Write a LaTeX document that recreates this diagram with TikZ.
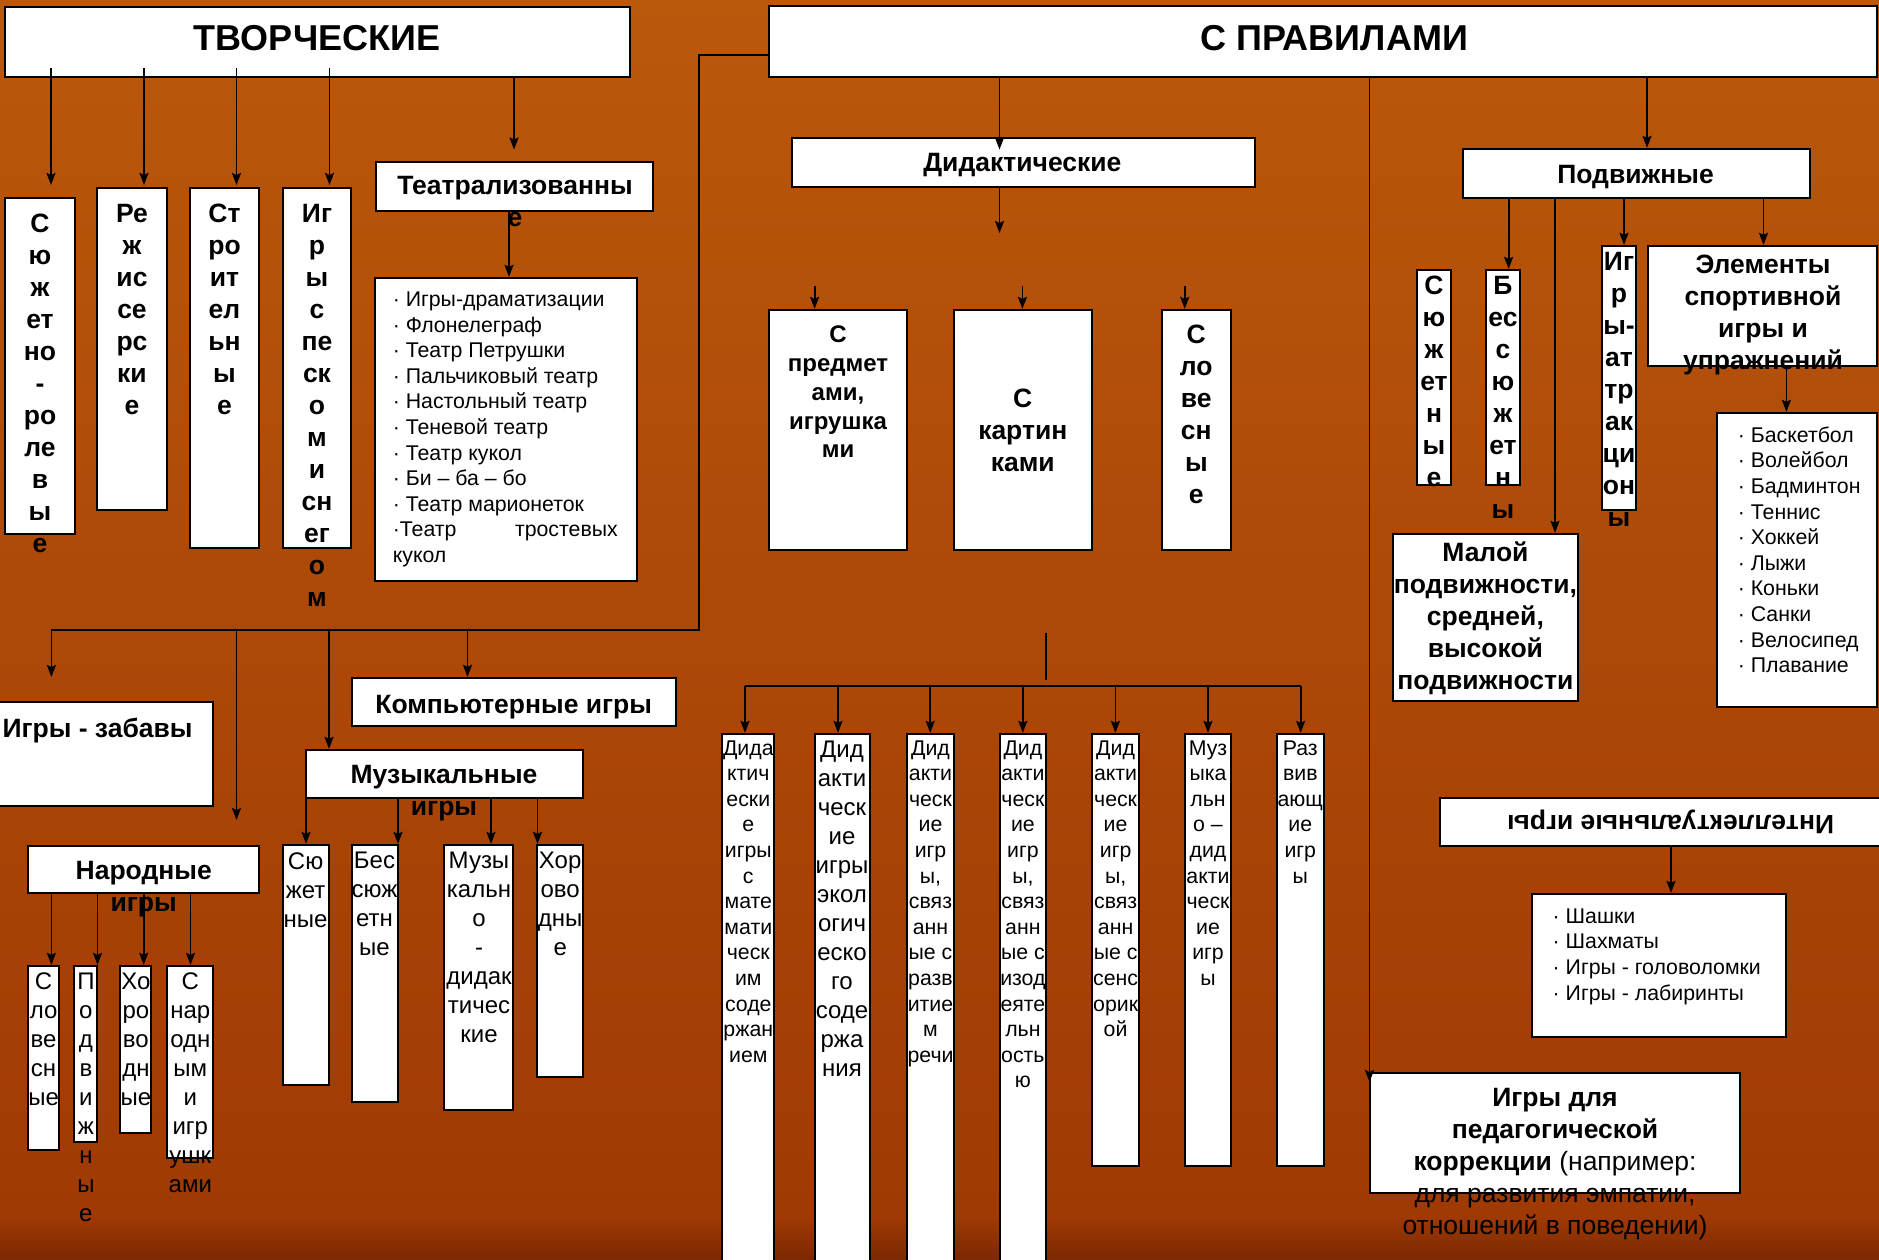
\documentclass[tikz,border=0pt]{standalone}
\usepackage{fontspec}
\setmainfont{Liberation Sans}
\usetikzlibrary{arrows.meta,fit}
\definecolor{bgtop}{RGB}{186,88,12}
\definecolor{bgbot}{RGB}{160,58,4}
\definecolor{bgstrip}{RGB}{124,40,2}

\begin{document}
\begin{tikzpicture}[x=1pt,y=-1pt,>={Stealth[length=12pt,width=9pt,inset=2pt]},
	box/.style={draw,line width=2.3pt,fill=white,inner sep=0pt},
	link/.style={line width=1.8pt},
	big/.style={font=\fontsize{36}{43}\selectfont\bfseries,inner sep=0pt,anchor=base},
	hd/.style={font=\fontsize{26.5}{32}\selectfont\bfseries,align=center,inner sep=0pt,anchor=north},
	tx/.style={font=\fontsize{26.5}{32}\selectfont,align=center,inner sep=0pt,anchor=north},
	md/.style={font=\fontsize{24}{29}\selectfont,align=center,inner sep=0pt,anchor=north},
	sm/.style={font=\fontsize{21.3}{25.6}\selectfont,align=center,inner sep=0pt,anchor=north},
	lst/.style={font=\fontsize{21.3}{25.6}\selectfont,align=left,inner sep=0pt,anchor=north west}]

\shade[top color=bgtop,bottom color=bgbot] (0,0) rectangle (1879,1215);
\shade[top color=bgbot,bottom color=bgstrip] (0,1215) rectangle (1879,1260);
\useasboundingbox (0,0) rectangle (1879,1260);

%%%%%%%%%%%%%%%%%%%%%%%%%%%%%%%%%%%%%%

\node[box,fit={(5,7) (630,77)}] (tvor) {};
\node[box,fit={(769,6) (1877,77)}] (prav) {};

\node[box,fit={(5,198) (75,534)}] (syu) {};
\node[box,fit={(97,188) (167,510)}] (rezh) {};
\node[box,fit={(190,188) (259,548)}] (stroi) {};
\node[box,fit={(283,188) (351,548)}] (pesok) {};
\node[box,fit={(376,162) (653,211)}] (teatr) {};
\node[box,fit={(375,278) (637,581)}] (teatrl) {};

%%%%%%%%%%%%%%%%%%%%%%%%%%%%%%%%%%%%%%

\node[box,fit={(792,138) (1255,187)}] (didakt) {};
\node[box,fit={(769,310) (907,550)}] (predm) {};
\node[box,fit={(954,310) (1092,550)}] (kart) {};
\node[box,fit={(1162,310) (1231,550)}] (slov) {};

\node[box,fit={(1463,149) (1810,198)}] (podv) {};
\node[box,fit={(1417,270) (1451,485)}] (psyu) {};
\node[box,fit={(1486,270) (1520,485)}] (pbes) {};
\node[box,fit={(1602,246) (1636,510)}] (pattr) {};
\node[box,fit={(1648,246) (1877,366)}] (pelem) {};
\node[box,fit={(1717,413) (1877,707)}] (psport) {};
\node[box,fit={(1393,534) (1578,701)}] (pmalo) {};

\node[box,fit={(1440,798) (1890,846)}] (intel) {};
\node[box,fit={(1532,894) (1786,1037)}] (intell) {};
\node[box,fit={(1370,1073) (1740,1193)}] (korr) {};

%%%%%%%%%%%%%%%%%%%%%%%%%%%%%%%%%%%%%%

\node[box,fit={(-5,702) (213,806)}] (zabav) {};
\node[box,fit={(352,678) (676,726)}] (komp) {};
\node[box,fit={(306,750) (583,798)}] (muz) {};
\node[box,fit={(283,845) (329,1085)}] (msyu) {};
\node[box,fit={(352,845) (398,1102)}] (mbes) {};
\node[box,fit={(444,845) (513,1110)}] (mdid) {};
\node[box,fit={(537,845) (583,1077)}] (mhor) {};
\node[box,fit={(28,846) (259,893)}] (narod) {};
\node[box,fit={(28,966) (59,1150)}] (nslov) {};
\node[box,fit={(74,966) (97,1142)}] (npodv) {};
\node[box,fit={(120,966) (151,1133)}] (nhor) {};
\node[box,fit={(167,966) (213,1158)}] (nigr) {};

\node[box,fit={(722,734) (774,1272)}] (d1) {};
\node[box,fit={(815,734) (870,1272)}] (d2) {};
\node[box,fit={(907,734) (954,1272)}] (d3) {};
\node[box,fit={(1000,734) (1046,1272)}] (d4) {};
\node[box,fit={(1092,734) (1139,1166)}] (d5) {};
\node[box,fit={(1185,734) (1231,1166)}] (d6) {};
\node[box,fit={(1277,734) (1324,1166)}] (d7) {};

%%%%%%%%%%%%%%%%%%%%%%%%%%%%%%%%%%%%%%

\coordinate (tvb) at ([yshift=10pt]tvor.south);
\coordinate (a1) at (51,185);
\coordinate (a2) at (144,185);
\coordinate (a3) at (236.5,185);
\coordinate (a4) at (329.5,185);
\coordinate (a5) at (514,149.5);
\coordinate (a6) at (509,0);
\draw[link,->] (tvb -| a1) -- (a1);
\draw[link,->] (tvb -| a2) -- (a2);
\draw[link,->] (tvb -| a3) -- (a3);
\draw[link,->] (tvb -| a4) -- (a4);
\draw[link,->] (tvor.south -| a5) -- (a5);
\draw[link,->] (teatr.south -| a6) -- (teatrl.north -| a6);

\coordinate (c1) at (699,55);
\coordinate (c2) at (699,630);
\coordinate (c3) at (51.4,630);
\coordinate (b2) at (236.5,630);
\coordinate (b3) at (329,630);
\coordinate (b4) at (467.5,630);
\coordinate (e1) at (51.4,677);
\coordinate (e2) at (236.5,820);
\draw[link] (prav.west |- c1) -- (c1) -- (c2) -- (c3);
\draw[link,->] (c3) -- (e1);
\draw[link,->] (b2) -- (e2);
\draw[link,->] (b3) -- (b3 |- muz.north);
\draw[link,->] (b4) -- (b4 |- komp.north);

\coordinate (mx2) at (398,0);
\coordinate (mx3) at (491,0);
\coordinate (mx4) at (537.5,0);
\draw[link,->] (muz.south -| msyu) -- (msyu.north);
\draw[link,->] (muz.south -| mx2) -- (mbes.north -| mx2);
\draw[link,->] (muz.south -| mx3) -- (mdid.north -| mx3);
\draw[link,->] (muz.south -| mx4) -- (mhor.north -| mx4);

\coordinate (nx1) at (51.4,0);
\coordinate (nx2) at (97.5,0);
\coordinate (nx3) at (143.7,0);
\coordinate (nx4) at (190.5,0);
\draw[link,->] (narod.south -| nx1) -- (nslov.north -| nx1);
\draw[link,->] (narod.south -| nx2) -- (npodv.north -| nx2);
\draw[link,->] (narod.south -| nx3) -- (nhor.north -| nx3);
\draw[link,->] (narod.south -| nx4) -- (nigr.north -| nx4);

%%%%%%%%%%%%%%%%%%%%%%%%%%%%%%%%%%%%%%

\coordinate (px1) at (999.5,149.5);
\coordinate (px2) at (999.5,233);
\draw[link,->] (prav.south -| px1) -- (px1);
\draw[link,->] (didakt.south -| px2) -- (px2);
\coordinate (q1) at (814.6,285.5);
\coordinate (q2) at (1022.4,285.5);
\coordinate (q3) at (1184.7,285.5);
\draw[link,->] (q1) -- (predm.north -| q1);
\draw[link,->] (q2) -- (kart.north -| q2);
\draw[link,->] (q3) -- (slov.north -| q3);

\coordinate (px3) at (1369.5,1082);
\coordinate (px4) at (1647,0);
\draw[link,->] (prav.south -| px3) -- (px3);
\draw[link,->] (prav.south -| px4) -- (podv.north -| px4);
\coordinate (px5) at (1508.6,0);
\coordinate (px6) at (1555,0);
\coordinate (px7) at (1624,0);
\coordinate (px8) at (1763.5,0);
\coordinate (px9) at (1786.4,0);
\coordinate (px10) at (1671,0);
\draw[link,->] (podv.south -| px5) -- (pbes.north -| px5);
\draw[link,->] (podv.south -| px6) -- (pmalo.north -| px6);
\draw[link,->] (podv.south -| px7) -- (pattr.north -| px7);
\draw[link,->] (podv.south -| px8) -- (pelem.north -| px8);
\draw[link,->] (pelem.south -| px9) -- (psport.north -| px9);
\draw[link,->] (intel.south -| px10) -- (intell.north -| px10);

\coordinate (g0) at (1046,633);
\coordinate (g1) at (1046,680);
\coordinate (gl) at (745,686);
\coordinate (gr) at (1300.6,686);
\draw[link] (g0) -- (g1);
\draw[link] (gl) -- (gr);
\foreach \x/\n in {745/d1,838/d2,930.2/d3,1022.8/d4,1115.4/d5,1208/d6,1300.6/d7}{
	\coordinate (gx) at (\x,686);
	\draw[link,->] (gx) -- (gx |- \n.north);
}

%%%%%%%%%%%%%%%%%%%%%%%%%%%%%%%%%%%%%%

\node[big] (tvor-t) at (317,50.5) {ТВОРЧЕСКИЕ};
\node[big] (prav-t) at (1334,50.5) {С ПРАВИЛАМИ};

\node[hd] (syu-t) at (40,213.5) {С\\ю\\ж\\ет\\но\\-\\ро\\ле\\в\\ы\\е};
\node[hd] (rezh-t) at (132,204) {Ре\\ж\\ис\\се\\рс\\ки\\е};
\node[hd] (stroi-t) at (224.5,204) {Ст\\ро\\ит\\ел\\ьн\\ы\\е};
\node[hd] (pesok-t) at (317,204) {Иг\\р\\ы\\с\\пе\\ск\\о\\м\\и\\сн\\ег\\о\\м};
\node[hd] (teatr-t) at (515,176.3) {Театрализованны\\е};
\node[lst] (teatrl-t) at (392.6,291.7) {· Игры-драматизации\\· Флонелеграф\\· Театр Петрушки\\· Пальчиковый театр\\· Настольный театр\\· Теневой театр\\· Театр кукол\\· Би – ба – бо\\· Театр марионеток\\\makebox[225pt][s]{·Театр тростевых}\\кукол};

\node[hd,anchor=base] (didakt-t) at (1022.4,171.5) {Дидактические};
\node[hd,font=\fontsize{24}{28.9}\selectfont\bfseries] (predm-t) at (838,325.4) {С\\предмет\\ами,\\игрушка\\ми};
\node[hd] (kart-t) at (1022.8,389) {С\\картин\\ками};
\node[hd] (slov-t) at (1196.3,324.5) {С\\ло\\ве\\сн\\ы\\е};

\node[hd,anchor=base] (podv-t) at (1635.5,184) {Подвижные};
\node[hd] (psyu-t) at (1434,276) {С\\ю\\ж\\ет\\н\\ы\\е};
\node[hd] (pbes-t) at (1503,276) {Б\\ес\\с\\ю\\ж\\ет\\н\\ы};
\node[hd] (pattr-t) at (1619,252) {Иг\\р\\ы-\\ат\\тр\\ак\\ци\\он\\ы};
\node[hd] (pelem-t) at (1763,254.5) {Элементы\\спортивной\\игры и\\упражнений};
\node[lst] (psport-t) at (1737.6,426.4) {· Баскетбол\\· Волейбол\\· Бадминтон\\· Теннис\\· Хоккей\\· Лыжи\\· Коньки\\· Санки\\· Велосипед\\· Плавание};
\node[hd] (pmalo-t) at (1485.4,541.5) {Малой\\подвижности,\\средней,\\высокой\\подвижности};

\node[hd,anchor=center,rotate=180] (intel-t) at (1670.6,821.4) {Интеллектуальные игры};
\node[lst] (intell-t) at (1552.5,908.4) {· Шашки\\· Шахматы\\· Игры - головоломки\\· Игры - лабиринты};
\node[tx] (korr-t) at (1555,1088.5) {\textbf{Игры для}\\\textbf{педагогической}\\\textbf{коррекции} (например:\\для развития эмпатии,\\отношений в поведении)};

%%%%%%%%%%%%%%%%%%%%%%%%%%%%%%%%%%%%%%

\node[hd,anchor=base west] (zabav-t) at (2.3,737.5) {Игры - забавы};
\node[hd,anchor=base] (komp-t) at (513.7,713.2) {Компьютерные игры};
\node[hd] (muz-t) at (444,765.5) {Музыкальные\\игры};
\node[md] (msyu-t) at (305.6,852.2) {Сю\\жет\\ные};
\node[md] (mbes-t) at (374.5,852.2) {Бес\\сюж\\етн\\ые};
\node[md] (mdid-t) at (479,852.2) {Музы\\кальн\\о\\-\\дидак\\тичес\\кие};
\node[md] (mhor-t) at (560.2,852.2) {Хор\\ово\\дны\\е};
\node[hd] (narod-t) at (143.7,861.5) {Народные\\игры};
\node[md] (nslov-t) at (43.6,972.7) {С\\ло\\ве\\сн\\ые};
\node[md] (npodv-t) at (85.9,972.7) {П\\о\\д\\в\\и\\ж\\н\\ы\\е};
\node[md] (nhor-t) at (135.9,972.7) {Хо\\ро\\во\\дн\\ые};
\node[md] (nigr-t) at (190.3,972.7) {С\\нар\\одн\\ым\\и\\игр\\ушк\\ами};

\node[sm] (d1-t) at (748.3,740.2) {Дида\\ктич\\ески\\е\\игры\\с\\мате\\мати\\ческ\\им\\соде\\ржан\\ием};
\node[md] (d2-t) at (842,741.2) {Дид\\акти\\ческ\\ие\\игры\\экол\\огич\\еско\\го\\соде\\ржа\\ния};
\node[sm] (d3-t) at (930.5,740.2) {Дид\\акти\\ческ\\ие\\игр\\ы,\\связ\\анн\\ые с\\разв\\итие\\м\\речи};
\node[sm] (d4-t) at (1022.9,740.2) {Дид\\акти\\ческ\\ие\\игр\\ы,\\связ\\анн\\ые с\\изод\\еяте\\льн\\ость\\ю};
\node[sm] (d5-t) at (1115.6,740.2) {Дид\\акти\\ческ\\ие\\игр\\ы,\\связ\\анн\\ые с\\сенс\\орик\\ой};
\node[sm] (d6-t) at (1208,740.2) {Муз\\ыка\\льн\\о –\\дид\\акти\\ческ\\ие\\игр\\ы};
\node[sm] (d7-t) at (1300.3,740.2) {Раз\\вив\\ающ\\ие\\игр\\ы};

\end{tikzpicture}
\end{document}
